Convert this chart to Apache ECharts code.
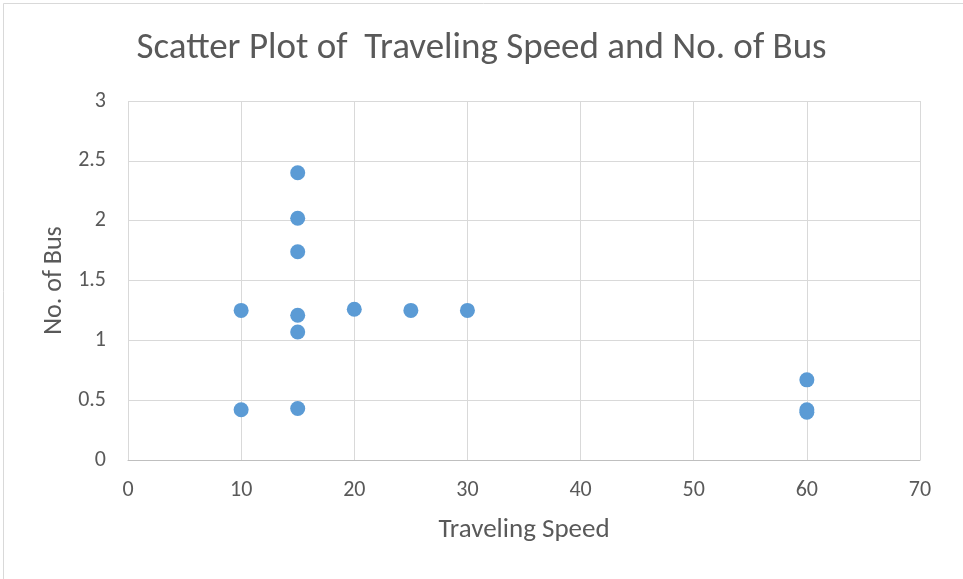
<!DOCTYPE html>
<html>
<head>
<meta charset="utf-8">
<script src="https://cdn.jsdelivr.net/npm/echarts@6/dist/echarts.min.js"></script>
<style>
html,body{margin:0;padding:0;background:#fff;}
#c{width:963px;height:579px;}
</style>
</head>
<body>
<div id="c"></div>
<script>
const titleText = "Scatter Plot of  Traveling Speed and No. of Bus";
const xAxisName = "Traveling Speed";
const yAxisName = "No. of Bus";
const speeds = [10, 10, 15, 15, 15, 15, 15, 15, 20, 25, 30, 60, 60, 60];
const buses  = [1.25, 0.42, 2.40, 2.02, 1.74, 1.21, 1.07, 0.43, 1.26, 1.25, 1.25, 0.67, 0.42, 0.40];

const FONT = "Carlito, 'Liberation Sans Narrow', 'Open Sans', sans-serif";
const chart = echarts.init(document.getElementById('c'));
const points = speeds.map((s, i) => [s, buses[i]]);
chart.setOption({
  animation: false,
  backgroundColor: '#fff',
  graphic: [{
    type: 'rect', left: 1, top: 1, z: -1,
    shape: {x: 0, y: 0, width: 960, height: 576},
    style: {fill: 'none', stroke: '#d9d9d9', lineWidth: 1}
  }],
  title: {
    text: titleText, left: 'center', top: 25,
    textStyle: {fontFamily: FONT, fontSize: 37, fontWeight: 'normal', color: '#595959'}
  },
  grid: {left: 128, right: 43, top: 101, bottom: 119},
  xAxis: {
    type: 'value', min: 0, max: 70, interval: 10,
    name: xAxisName, nameLocation: 'middle', nameGap: 57,
    nameTextStyle: {fontFamily: FONT, fontSize: 27, color: '#595959'},
    axisLine: {show: true, lineStyle: {color: '#bfbfbf', width: 1}},
    axisTick: {show: false},
    axisLabel: {fontFamily: FONT, fontSize: 22, color: '#595959', margin: 19},
    splitLine: {show: true, lineStyle: {color: '#d9d9d9', width: 1}}
  },
  yAxis: {
    type: 'value', min: 0, max: 3, interval: 0.5,
    name: yAxisName, nameLocation: 'middle', nameGap: 60, nameRotate: 90,
    nameTextStyle: {fontFamily: FONT, fontSize: 26, color: '#595959'},
    axisLine: {show: false},
    axisTick: {show: false},
    axisLabel: {fontFamily: FONT, fontSize: 22, color: '#595959', margin: 22},
    splitLine: {show: true, lineStyle: {color: '#d9d9d9', width: 1}}
  },
  series: [{
    type: 'scatter', data: points, symbol: 'circle', symbolSize: 15,
    itemStyle: {color: '#5b9bd5', opacity: 1}
  }]
});
</script>
</body>
</html>
